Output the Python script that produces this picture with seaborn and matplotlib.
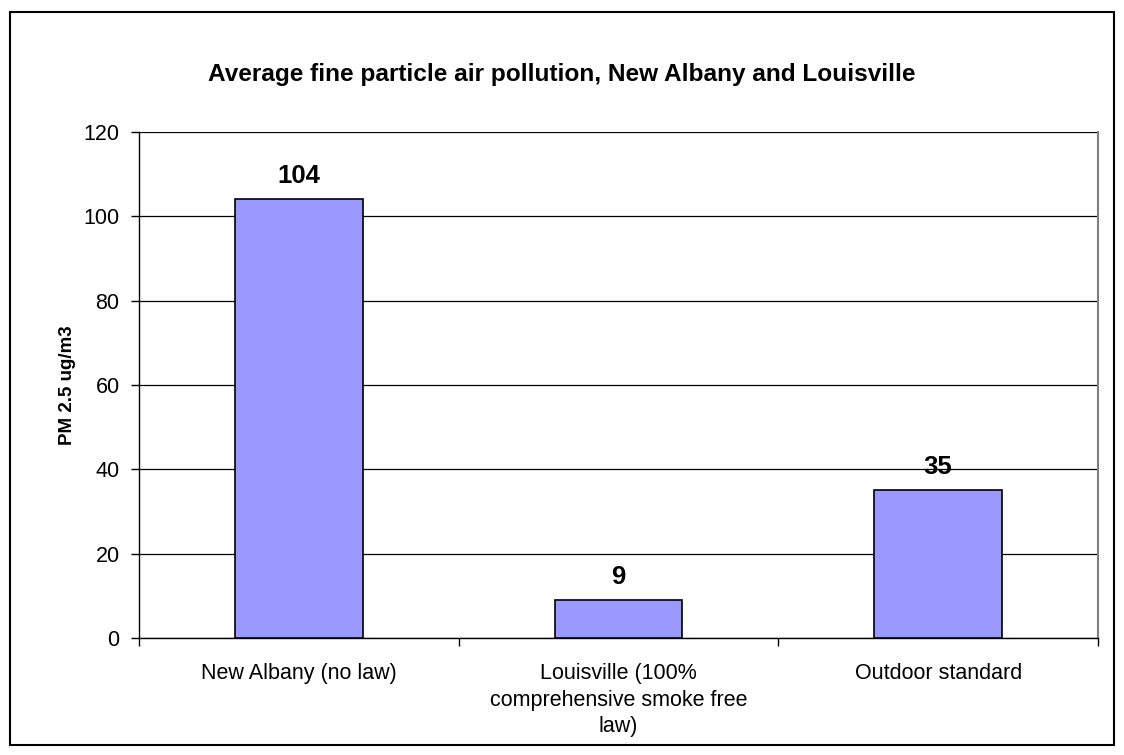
import numpy as np
import pandas as pd
import matplotlib.pyplot as plt
import seaborn as sns
from matplotlib.patches import Rectangle

sns.set_style('white')
plt.rcParams['font.family'] = ['Liberation Sans', 'DejaVu Sans']
plt.rcParams['text.color'] = 'black'
plt.rcParams['xtick.color'] = 'black'
plt.rcParams['ytick.color'] = 'black'
plt.rcParams['axes.labelcolor'] = 'black'

# данные с графика
categories = ['New Albany (no law)', 'Louisville (100%\ncomprehensive smoke free\nlaw)', 'Outdoor standard']
values = [104, 9, 35]
yticks = [0, 20, 40, 60, 80, 100, 120]

df = pd.DataFrame({'place': categories, 'pm25': values})

fig = plt.figure(figsize=(11.24, 7.55), dpi=100)
ax = fig.add_axes([139 / 1124, 1 - 638 / 755, (1098 - 139) / 1124, (638 - 132) / 755])

sns.barplot(data=df, x='place', y='pm25', color='#9999FF', saturation=1,
            edgecolor='black', linewidth=1.2, width=0.4, ax=ax, zorder=3)

ax.set_ylim(0, 120)
ax.set_xlim(-0.5, 2.5)
ax.set_yticks(yticks)
ax.yaxis.grid(True, color='black', linewidth=0.9, zorder=0)
ax.set_axisbelow(True)

# подписи значений
for i, v in enumerate(values):
    ax.text(i, v + 2.7, str(v), ha='center', va='bottom', fontsize=18.5, fontweight='bold')

# рамки осей
for s in ['left', 'bottom']:
    ax.spines[s].set_color('black')
    ax.spines[s].set_linewidth(1)
ax.spines['top'].set_visible(False)
ax.spines['right'].set_color('#808080')
ax.spines['right'].set_linewidth(1.5)

ax.tick_params(axis='y', which='major', left=True, length=6, width=1, labelsize=15.5, pad=8)
ax.tick_params(axis='x', which='major', bottom=False, length=0, labelsize=15.5, pad=18)
ax.set_xticks([-0.5, 0.5, 1.5, 2.5], minor=True)
ax.tick_params(axis='x', which='minor', bottom=True, length=6, width=1)
for lbl in ax.get_xticklabels():
    lbl.set_linespacing(1.35)

ax.set_xlabel('')
ax.set_ylabel('PM 2.5 ug/m3', fontsize=13.5, fontweight='bold', labelpad=5)

fig.text(0.5, 1 - 75 / 755, 'Average fine particle air pollution, New Albany and Louisville',
         ha='center', va='center', fontsize=17.6, fontweight='bold')

# внешняя рамка всей диаграммы
fig.patches.append(Rectangle((10 / 1124, 1 - 745 / 755), (1114 - 10) / 1124, (745 - 12) / 755,
                             transform=fig.transFigure, fill=False, edgecolor='black', linewidth=1.5))

fig.savefig('out.png', dpi=100)
